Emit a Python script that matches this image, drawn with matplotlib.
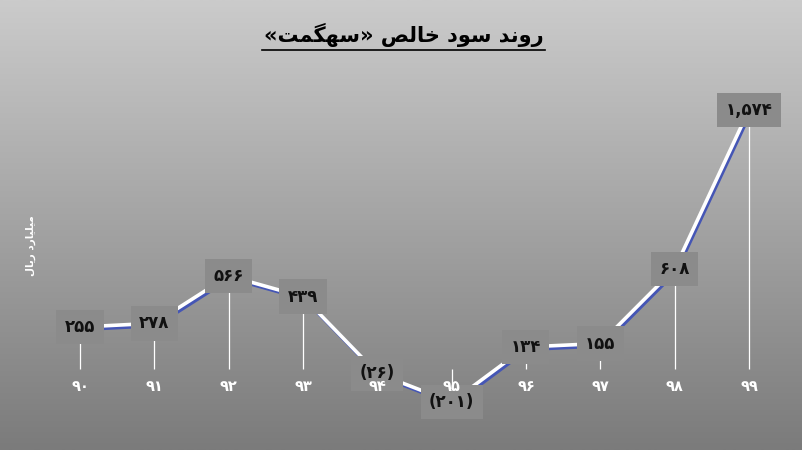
import numpy as np
import matplotlib
matplotlib.use('Agg')
import matplotlib.pyplot as plt
from matplotlib import patheffects
from matplotlib.lines import Line2D
from matplotlib.transforms import offset_copy

# data
years = ['90', '91', '92', '93', '94', '95', '96', '97', '98', '99']
net_profit = [255, 278, 566, 439, -26, -201, 134, 155, 608, 1574]

title_txt = 'روند سود خالص «سهگمت»'
ylabel_txt = 'میلیارد ریال'

# --- minimal persian shaping (matplotlib does not shape arabic) ---
FORMS = {
    'ا': ('\uFE8D', '\uFE8E', None, None),
    'د': ('\uFEA9', '\uFEAA', None, None),
    'ر': ('\uFEAD', '\uFEAE', None, None),
    'و': ('\uFEED', '\uFEEE', None, None),
    'ب': ('\uFE8F', '\uFE90', '\uFE91', '\uFE92'),
    'ت': ('\uFE95', '\uFE96', '\uFE97', '\uFE98'),
    'خ': ('\uFEA5', '\uFEA6', '\uFEA7', '\uFEA8'),
    'س': ('\uFEB1', '\uFEB2', '\uFEB3', '\uFEB4'),
    'ص': ('\uFEB9', '\uFEBA', '\uFEBB', '\uFEBC'),
    'ل': ('\uFEDD', '\uFEDE', '\uFEDF', '\uFEE0'),
    'م': ('\uFEE1', '\uFEE2', '\uFEE3', '\uFEE4'),
    'ن': ('\uFEE5', '\uFEE6', '\uFEE7', '\uFEE8'),
    'ه': ('\uFEE9', '\uFEEA', '\uFEEB', '\uFEEC'),
    'گ': ('\uFB92', '\uFB93', '\uFB94', '\uFB95'),
    'ی': ('\uFBFC', '\uFBFD', '\uFBFE', '\uFBFF'),
}
MIRROR = {'«': '»', '»': '«', '(': ')', ')': '('}


def joins_next(c):
    return c in FORMS and FORMS[c][2] is not None


def fa(text):
    out = []
    for i, c in enumerate(text):
        if c not in FORMS:
            out.append(c)
            continue
        prev = text[i - 1] if i > 0 else ''
        nxt = text[i + 1] if i + 1 < len(text) else ''
        from_prev = joins_next(prev)
        to_next = joins_next(c) and nxt in FORMS
        iso, fin, ini, med = FORMS[c]
        if from_prev and to_next:
            out.append(med)
        elif from_prev:
            out.append(fin)
        elif to_next:
            out.append(ini)
        else:
            out.append(iso)
    return ''.join(MIRROR.get(c, c) for c in reversed(out))


def fa_num(v):
    s = '{:,}'.format(abs(v)).translate(str.maketrans('0123456789', '۰۱۲۳۴۵۶۷۸۹'))
    return '(' + s + ')' if v < 0 else s


fig = plt.figure(figsize=(8.02, 4.5), dpi=100)

# gradient background
bg = fig.add_axes([0, 0, 1, 1], zorder=-10)
grad = np.linspace(0, 1, 256).reshape(-1, 1)
cmap = matplotlib.colors.LinearSegmentedColormap.from_list('bg', ['#cbcbcb', '#7b7b7b'])
bg.imshow(grad, aspect='auto', cmap=cmap, extent=[0, 1, 0, 1], origin='upper')
bg.axis('off')

ax = fig.add_axes([0.0534, 0.0702, 0.9268, 0.7316])
ax.patch.set_visible(False)
x = np.arange(len(years))

ax.vlines(x, 0, net_profit, color='white', lw=0.9, zorder=1)
ax.plot(x, net_profit, color='white', lw=2.6, zorder=2, solid_capstyle='round',
        path_effects=[patheffects.SimpleLineShadow(offset=(1.2, -1.7), shadow_color='#4556b5', alpha=1),
                      patheffects.Normal()])

for xi, v in zip(x, net_profit):
    ax.text(xi, v, fa_num(v), ha='center', va='center', fontsize=12, fontweight='bold',
            color='#111111', zorder=4,
            bbox=dict(boxstyle='square,pad=0.5', fc='#8b8b8b', ec='none'))

# category labels just below the zero line, drawn above the boxes
tick_tr = offset_copy(ax.transData, fig=fig, x=0, y=-17, units='dots')
for xi, y in zip(x, years):
    ax.text(xi, 0, fa_num(int(y)), transform=tick_tr, ha='center', va='center',
            color='white', fontsize=10.5, fontweight='bold', zorder=5)

ax.set_xlim(-0.5, len(years) - 0.5)
ax.set_ylim(-300, 1700)
ax.set_xticks([])
ax.set_yticks([])
for s in ['top', 'right', 'left', 'bottom']:
    ax.spines[s].set_visible(False)

fig.text(0.039, 0.455, fa(ylabel_txt), rotation=90, ha='center', va='center',
         color='white', fontsize=7.5, fontweight='bold')

fig.text(0.503, 0.922, fa(title_txt), ha='center', va='center', fontsize=15,
         fontweight='bold', color='black')
fig.add_artist(Line2D([262 / 802, 545 / 802], [1 - 50 / 450, 1 - 50 / 450],
                      color='black', lw=1.2))

fig.savefig('out.png', dpi=100)
